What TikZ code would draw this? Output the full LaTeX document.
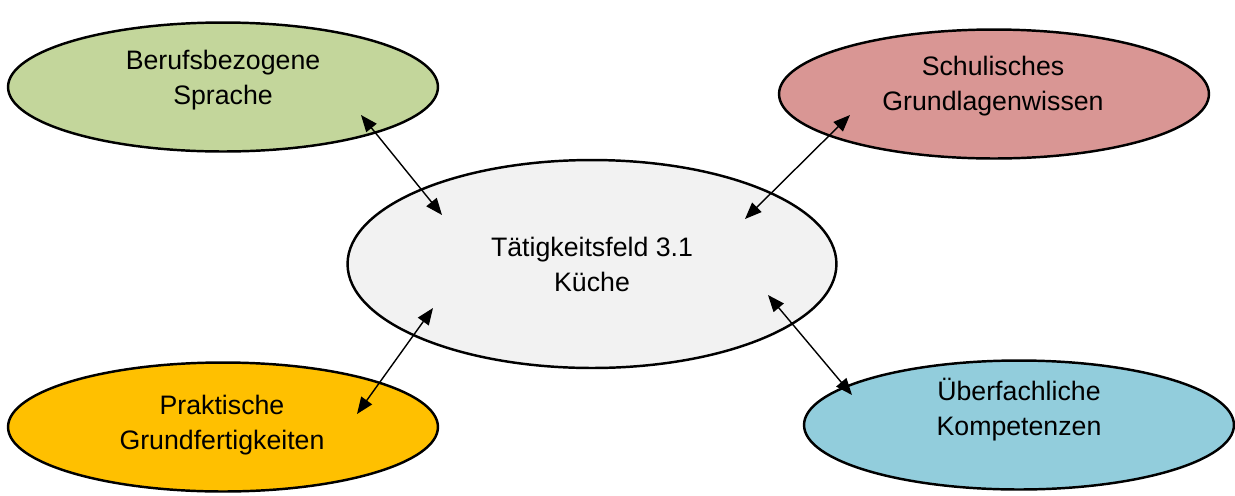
\documentclass[tikz,border=0pt]{standalone}
\usepackage{fontspec}
\setmainfont{Liberation Sans}
\usetikzlibrary{shapes.geometric,arrows.meta}
\definecolor{cgreen}{HTML}{C3D69B}
\definecolor{cred}{HTML}{D99694}
\definecolor{cgray}{HTML}{F2F2F2}
\definecolor{cyellow}{HTML}{FFC000}
\definecolor{cblue}{HTML}{92CDDC}
\begin{document}
\begin{tikzpicture}[x=0.02cm,y=-0.02cm,
  ell/.style={ellipse,draw=black,line width=1.4pt,inner sep=0pt},
  small/.style={ell,minimum width=8.6cm,minimum height=2.58cm},
  big/.style={ell,minimum width=9.78cm,minimum height=4.16cm},
  txt/.style={align=center,font=\fontsize{15.2}{19.9}\selectfont,inner sep=0pt},
  conn/.style={line width=0.8pt,{Triangle[length=9.5pt,width=7.5pt]}-{Triangle[length=9.5pt,width=7.5pt]}}]
\useasboundingbox (0,0) rectangle (1235,495);
\node[small,fill=cgreen] (green) at (223,87) {};
\node[small,fill=cred] (red) at (994,94) {};
\node[big,fill=cgray] (center) at (592,264) {};
\node[small,fill=cyellow] (yellow) at (223,427) {};
\node[small,fill=cblue] (blue) at (1019,425) {};
\node[txt] (greent) at (223,80) {Berufsbezogene\\Sprache};
\node[txt] (redt) at (993,86) {Schulisches\\Grundlagenwissen};
\node[txt] (centert) at (592,264) {Tätigkeitsfeld 3.1\\Küche};
\node[txt] (yellowt) at (222,425) {Praktische\\Grundfertigkeiten};
\node[txt] (bluet) at (1019,410) {Überfachliche\\Kompetenzen};
\coordinate (g1) at (361,115);
\coordinate (g2) at (442,215);
\coordinate (r1) at (850,115);
\coordinate (r2) at (745,219);
\coordinate (y1) at (357,414);
\coordinate (y2) at (433,308);
\coordinate (b1) at (852,395);
\coordinate (b2) at (768,295);
\draw[conn] (g1) -- (g2);
\draw[conn] (r1) -- (r2);
\draw[conn] (y1) -- (y2);
\draw[conn] (b1) -- (b2);
\end{tikzpicture}
\end{document}
